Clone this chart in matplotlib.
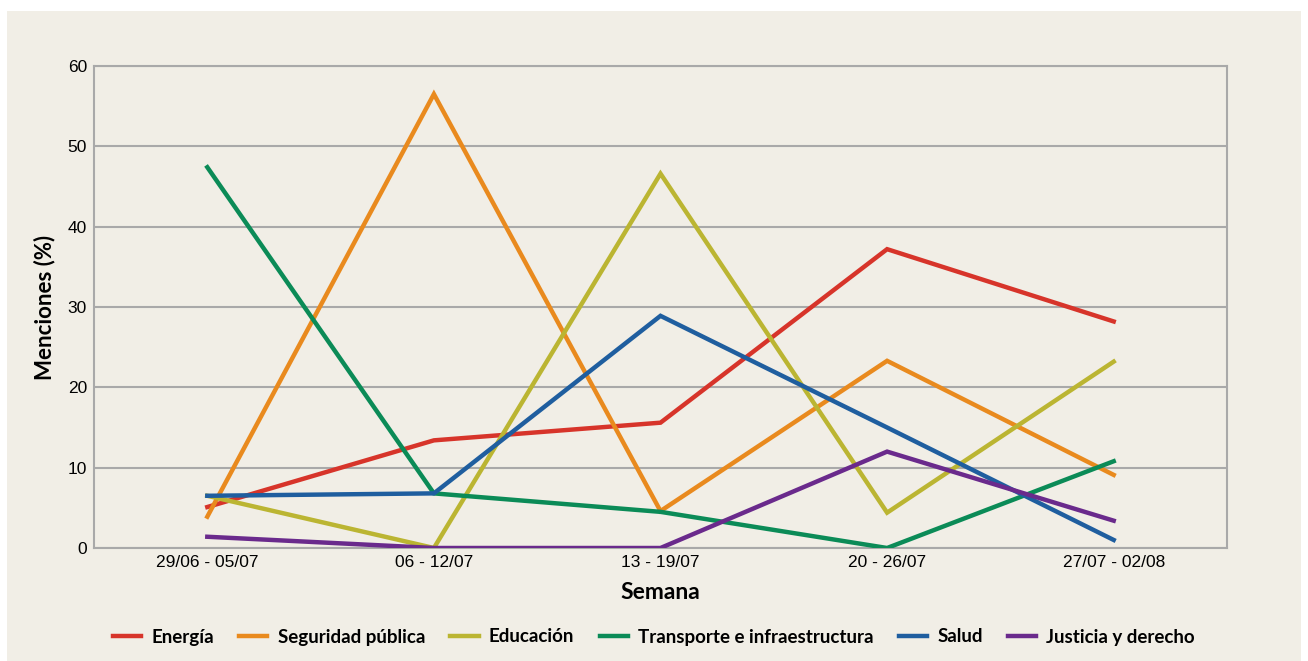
import matplotlib
matplotlib.use("Agg")
import matplotlib.pyplot as plt
from matplotlib.patches import Rectangle
import numpy as np

# ── Data ──
WEEKS = ["29/06 - 05/07", "06 - 12/07", "13 - 19/07", "20 - 26/07", "27/07 - 02/08"]
ENERGIA = [5.1, 13.4, 15.6, 37.2, 28.2]
SEGURIDAD = [3.9, 56.5, 4.6, 23.3, 9.1]
EDUCACION = [6.5, 0.0, 46.6, 4.4, 23.2]
TRANSPORTE = [47.4, 6.8, 4.5, 0.0, 10.8]
SALUD = [6.5, 6.8, 28.9, 15.0, 1.0]
JUSTICIA = [1.4, 0.0, 0.0, 12.0, 3.4]

SERIES = [
    ("Energía", ENERGIA, "#D7342A"),
    ("Seguridad pública", SEGURIDAD, "#E98A1E"),
    ("Educación", EDUCACION, "#BBB532"),
    ("Transporte e infraestructura", TRANSPORTE, "#0B8B57"),
    ("Salud", SALUD, "#1F5E9F"),
    ("Justicia y derecho", JUSTICIA, "#6A2A8C"),
]

BG = "#F1EEE6"
GRID = "#A9A9A9"
BOLD_FONT = ["Lato", "DejaVu Sans"]
TICK_FONT = ["Liberation Sans", "DejaVu Sans"]

fig = plt.figure(figsize=(13.08, 6.61), dpi=100, facecolor="white")
fig.patches.append(Rectangle((7 / 1308, 0), 1294 / 1308, 650 / 661,
                             transform=fig.transFigure, facecolor=BG,
                             edgecolor="none", zorder=-10))

ax = fig.add_axes([94 / 1308, 1 - 548 / 661, 1133 / 1308, 482 / 661])
ax.set_facecolor(BG)

x = np.arange(len(WEEKS)) + 0.5
for name, vals, col in SERIES:
    ax.plot(x, vals, color=col, linewidth=3.2, label=name, solid_joinstyle="miter", zorder=3)

ax.set_xlim(0, len(WEEKS))
ax.set_ylim(0, 60)
ax.set_yticks(range(0, 61, 10))
ax.set_xticks(x)
ax.set_xticklabels(WEEKS, family=TICK_FONT, fontsize=12.5)
for lbl in ax.get_yticklabels():
    lbl.set_family(TICK_FONT)
    lbl.set_fontsize(12.5)
ax.tick_params(length=0, pad=5)
ax.grid(axis="y", color=GRID, linewidth=1.5, zorder=0)
for s in ax.spines.values():
    s.set_color(GRID)
    s.set_linewidth(1.5)

ax.set_ylabel("Menciones (%)", family=BOLD_FONT, fontweight="bold", fontsize=16, labelpad=9)
ax.set_xlabel("Semana", family=BOLD_FONT, fontweight="bold", fontsize=16.5, labelpad=9)

leg = fig.legend(loc="center", bbox_to_anchor=(0.5, 1 - 637 / 661), ncol=6,
                 frameon=False, handlelength=1.5, columnspacing=1.35, handletextpad=0.55,
                 prop={"family": BOLD_FONT, "weight": "bold", "size": 13.5})

fig.savefig("out.png", dpi=100, facecolor="white")
